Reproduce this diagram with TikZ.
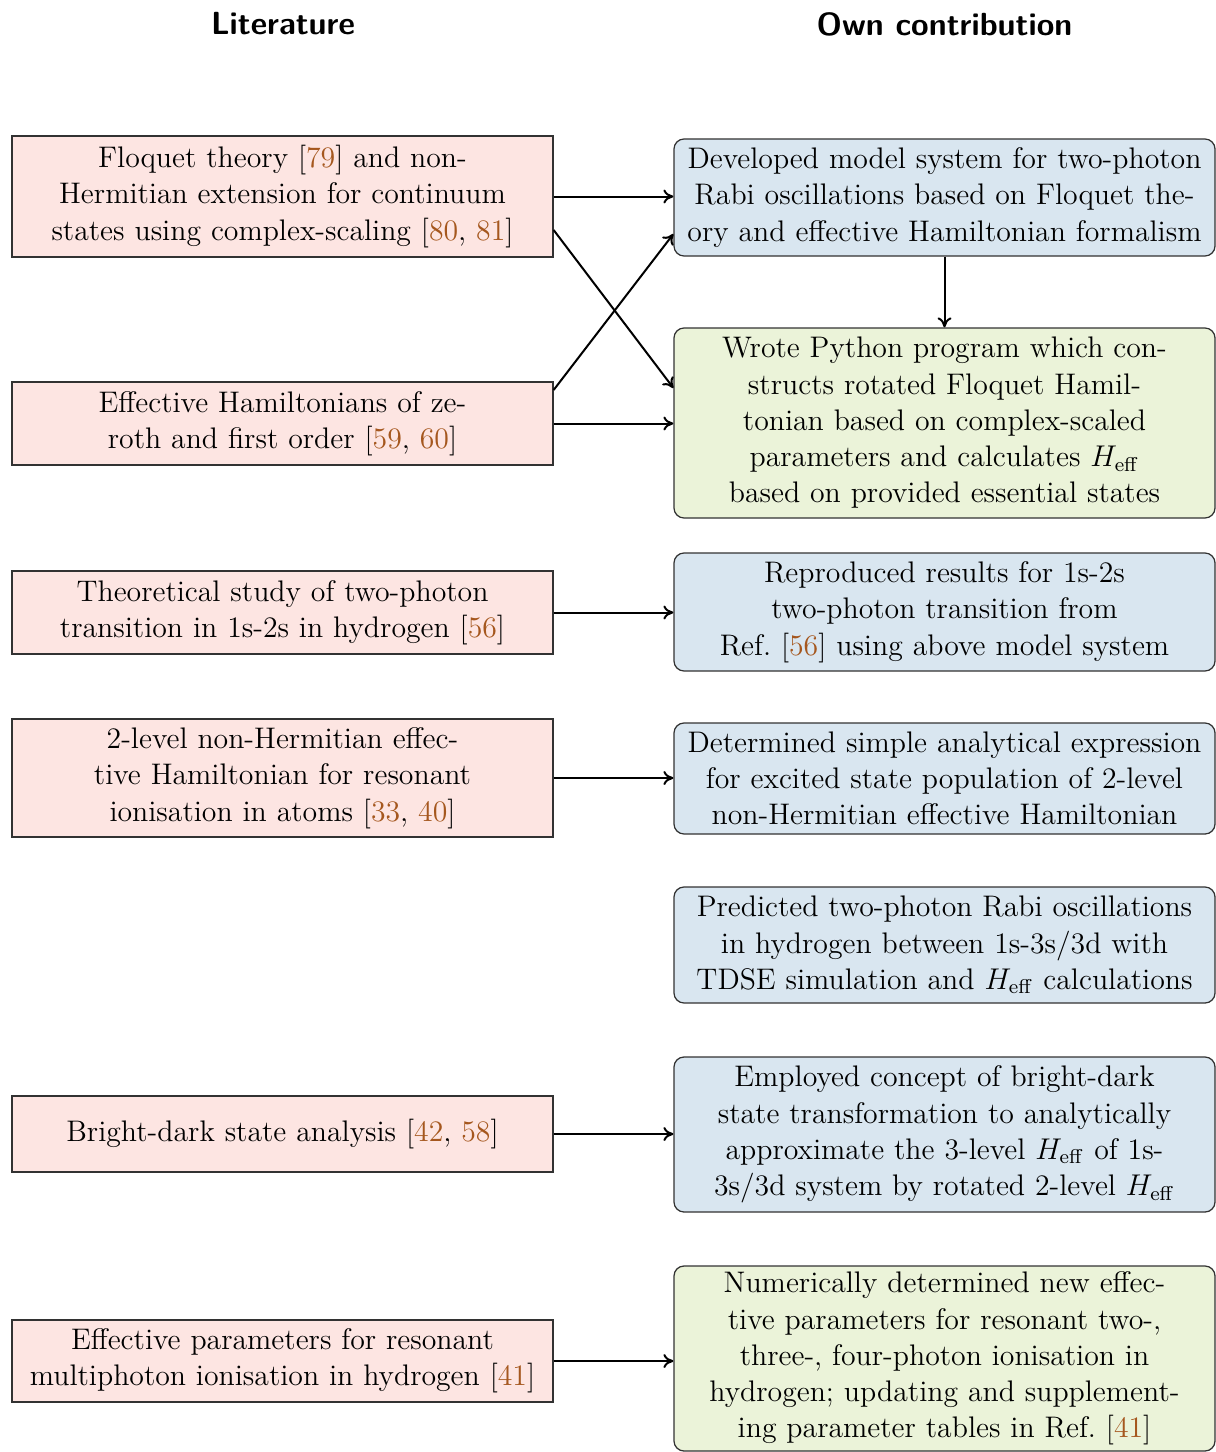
\documentclass[tikz,border=0pt]{standalone}
\usetikzlibrary{arrows.meta,calc}
\definecolor{litfill}{RGB}{253,229,226}
\definecolor{bluefill}{RGB}{217,230,240}
\definecolor{greenfill}{RGB}{235,243,217}
\definecolor{citecol}{RGB}{165,87,30}
\definecolor{boxline}{RGB}{50,50,50}
\newcommand{\rf}[1]{\textcolor{citecol}{#1}}
\begin{document}
\begin{tikzpicture}[x=0.4pt,y=-0.4pt,
  every node/.style={font=\fontsize{11.9}{14.5}\selectfont},
  basebox/.style={draw=boxline, line width=0.5pt, minimum width=216.4pt, text width=210pt, align=center, inner xsep=3.2pt, inner ysep=1pt},
  litbox/.style={basebox, fill=litfill},
  bluebox/.style={basebox, fill=bluefill, rounded corners=4pt},
  greenbox/.style={basebox, fill=greenfill, rounded corners=4pt},
  head/.style={font=\fontsize{12.8}{15}\selectfont\sffamily\bfseries},
  arr/.style={-{To[length=4pt,width=5.6pt]}, line width=0.8pt}
]
\useasboundingbox (0,0) rectangle (1215,1452);

\node[head] (hl) at (283,24) {Literature};
\node[head] (hr) at (944.5,24) {Own contribution};

% Literature boxes
\node[litbox, minimum height=48.4pt] (L1) at (282.5,196.5) {Floquet theory [\rf{79}] and non-\\Hermitian extension for continuum\\states using complex-scaling [\rf{80}, \rf{81}]};
\node[litbox, minimum height=33.2pt] (L2) at (282.5,423.5) {Effective Hamiltonians of ze-\\roth and first order [\rf{59}, \rf{60}]};
\node[litbox, minimum height=33.2pt] (L3) at (282.5,612.5) {Theoretical study of two-photon\\transition in 1s-2s in hydrogen [\rf{56}]};
\node[litbox, minimum height=47.2pt] (L4) at (282.5,778) {2-level non-Hermitian effec-\\tive Hamiltonian for resonant\\ionisation in atoms [\rf{33}, \rf{40}]};
\node[litbox, minimum height=30.4pt] (L5) at (282.5,1134) {Bright-dark state analysis [\rf{42}, \rf{58}]};
\node[litbox, minimum height=32.8pt] (L6) at (282.5,1361) {Effective parameters for resonant\\multiphoton ionisation in hydrogen [\rf{41}]};

% Own contribution boxes
\node[bluebox, minimum height=46.8pt] (R1) at (944.5,197.5) {Developed model system for two-photon\\Rabi oscillations based on Floquet the-\\ory and effective Hamiltonian formalism};
\node[greenbox, minimum height=76pt] (R2) at (944.5,423) {Wrote Python program which con-\\structs rotated Floquet Hamil-\\tonian based on complex-scaled\\parameters and calculates $H_{\mathrm{eff}}$\\based on provided essential states};
\node[bluebox, minimum height=47.2pt] (R3) at (944.5,612) {Reproduced results for 1s-2s\\two-photon transition from\\Ref.~[\rf{56}] using above model system};
\node[bluebox, minimum height=44.4pt] (R4) at (944.5,778.5) {Determined simple analytical expression\\for excited state population of 2-level\\non-Hermitian effective Hamiltonian};
\node[bluebox, minimum height=46.4pt] (R5) at (944.5,945) {Predicted two-photon Rabi oscillations\\in hydrogen between 1s-3s/3d with\\TDSE simulation and $H_{\mathrm{eff}}$ calculations};
\node[bluebox, minimum height=62pt] (R6) at (944.5,1134.5) {Employed concept of bright-dark\\state transformation to analytically\\approximate the 3-level $H_{\mathrm{eff}}$ of 1s-\\3s/3d system by rotated 2-level $H_{\mathrm{eff}}$};
\node[greenbox, minimum height=74pt] (R7) at (944.5,1358.5) {Numerically determined new effec-\\tive parameters for resonant two-,\\three-, four-photon ionisation in\\hydrogen; updating and supplement-\\ing parameter tables in Ref.~[\rf{41}]};

% Connectors
\draw[arr] (L1.east) -- (L1.east -| R1.west);
\draw[arr] ([yshift=-13.4pt]L1.east) -- ([yshift=14pt]R2.west);
\draw[arr] ([yshift=13.4pt]L2.east) -- ([yshift=-14.6pt]R1.west);
\draw[arr] (L2.east) -- (L2.east -| R2.west);
\draw[arr] (R1.south) -- (R2.north);
\draw[arr] (L3.east) -- (L3.east -| R3.west);
\draw[arr] (L4.east) -- (L4.east -| R4.west);
\draw[arr] (L5.east) -- (L5.east -| R6.west);
\draw[arr] (L6.east) -- (L6.east -| R7.west);
\end{tikzpicture}
\end{document}
